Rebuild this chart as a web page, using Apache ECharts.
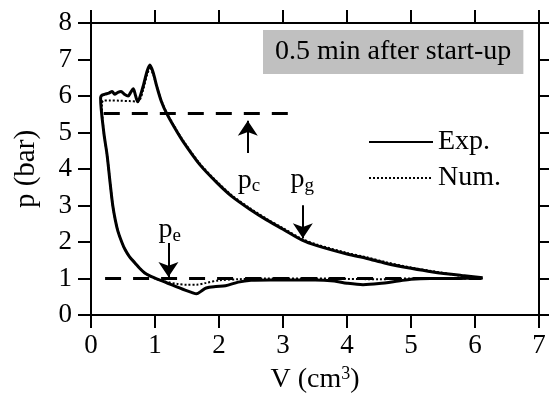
<!DOCTYPE html>
<html>
<head>
<meta charset="utf-8">
<script src="https://cdn.jsdelivr.net/npm/echarts@6/dist/echarts.min.js"></script>
<style>
  html, body { margin: 0; padding: 0; background: #fff; }
  #chart { width: 549px; height: 396px; }
</style>
</head>
<body>
<div id="chart"></div>
<script>
const expV = [6.12, 5.8, 5.34, 5.0, 4.6, 4.31, 4.0, 3.53, 3.3, 3.0, 2.75, 2.48, 2.2, 1.97, 1.7, 1.44, 1.3, 1.18, 1.1, 1.03, 0.97, 0.92, 0.88, 0.82, 0.77, 0.73, 0.69, 0.66, 0.62, 0.58, 0.52, 0.47, 0.42, 0.37, 0.33, 0.28, 0.22, 0.17, 0.15,
  0.2, 0.25, 0.3, 0.34, 0.38, 0.42, 0.48, 0.53, 0.6, 0.69, 0.76, 0.84, 0.92, 1.0, 1.1, 1.2, 1.33, 1.47, 1.57, 1.65, 1.72, 1.8, 1.95, 2.1, 2.3, 2.5, 2.8, 3.1, 3.5, 3.8, 4.0, 4.25, 4.5, 4.8, 5.0, 5.3, 5.7, 6.12]
const expP = [1.02, 1.08, 1.18, 1.28, 1.42, 1.55, 1.67, 1.9, 2.05, 2.35, 2.6, 2.9, 3.25, 3.62, 4.12, 4.75, 5.15, 5.53, 5.85, 6.25, 6.65, 6.85, 6.7, 6.3, 6.0, 5.84, 6.05, 6.2, 6.1, 6.0, 6.05, 6.12, 6.1, 6.05, 6.12, 6.08, 6.05, 6.02, 5.95,
  5.0, 4.4, 3.6, 3.0, 2.6, 2.3, 2.0, 1.8, 1.6, 1.42, 1.28, 1.15, 1.07, 1.01, 0.94, 0.87, 0.78, 0.68, 0.62, 0.58, 0.65, 0.74, 0.78, 0.8, 0.9, 0.95, 0.96, 0.96, 0.96, 0.93, 0.87, 0.83, 0.86, 0.93, 0.98, 1.0, 1.0, 1.02]

// Numerical p-V loop
const numV = [6.12, 5.8, 5.34, 5.0, 4.6, 4.31, 4.0, 3.53, 3.3, 3.0, 2.75, 2.48, 2.2, 1.97, 1.7, 1.44, 1.3, 1.18, 1.1, 1.03, 0.97, 0.92, 0.88, 0.82, 0.77, 0.73, 0.6, 0.45, 0.3, 0.2, 0.17,
  0.2, 0.25, 0.3, 0.34, 0.38, 0.42, 0.48, 0.53, 0.6, 0.69, 0.76, 0.84, 0.92, 1.0, 1.1, 1.2, 1.35, 1.5, 1.65, 1.8, 2.0, 2.3, 2.7, 3.5, 4.0, 4.5, 5.0, 6.12]
const numP = [1.0, 1.07, 1.2, 1.3, 1.45, 1.58, 1.7, 1.93, 2.08, 2.38, 2.63, 2.93, 3.28, 3.65, 4.15, 4.78, 5.18, 5.55, 5.87, 6.25, 6.6, 6.75, 6.6, 6.2, 5.92, 5.85, 5.86, 5.87, 5.88, 5.88, 5.8,
  5.0, 4.4, 3.6, 3.0, 2.6, 2.3, 2.0, 1.8, 1.6, 1.42, 1.28, 1.15, 1.07, 1.0, 0.94, 0.9, 0.85, 0.83, 0.83, 0.88, 0.95, 0.98, 1.0, 1.0, 0.99, 0.98, 1.0, 1.0]

// reference pressure lines pc and pe
const pcLine = [[0.2, 5.52], [3.2, 5.52]]
const peLine = [[0.22, 1.0], [6.1, 1.0]]

// arrows: [from, to]
const arrows = [
  [[2.45, 4.44], [2.45, 5.32]],
  [[3.31, 3.01], [3.31, 2.1]],
  [[1.21, 1.97], [1.21, 1.04]],
]
// arrow labels
const labelPos = [[2.47, 3.69], [3.3, 3.7], [1.23, 2.33]]
const labelSub = ["c", "g", "e"]

const xTicks = [0, 1, 2, 3, 4, 5, 6, 7]
const yTicks = [0, 1, 2, 3, 4, 5, 6, 7, 8]

const FONT = "'Liberation Serif', 'Times New Roman', Times, serif"
const BLACK = "#000"

const chart = echarts.init(document.getElementById("chart"))

const zip = (a, b) => a.map((v, i) => [v, b[i]])

const axisCommon = {
  type: "value",
  axisLine: { show: true, onZero: false, lineStyle: { color: BLACK, width: 2 } },
  axisTick: { show: true, inside: false, length: 13, lineStyle: { color: BLACK, width: 2 } },
  splitLine: { show: false },
}

const option = {
  animation: false,
  backgroundColor: "#fff",
  textStyle: { fontFamily: FONT },
  title: {
    text: "0.5 min after start-up",
    left: 263,
    top: 30,
    backgroundColor: "#c0c0c0",
    padding: [7, 12],
    textStyle: { fontFamily: FONT, fontSize: 28, lineHeight: 30, fontWeight: "normal", color: BLACK },
  },
  legend: {
    data: ["Exp.", "Num."],
    orient: "vertical",
    left: 363,
    top: 123,
    itemWidth: 64,
    itemHeight: 20,
    itemGap: 8,
    itemStyle: { opacity: 0 },
    textStyle: { fontFamily: FONT, fontSize: 28, color: BLACK, padding: [0, 0, 0, 0] },
  },
  grid: { left: 91, right: 10, top: 23, bottom: 81, outerBoundsMode: "none" },
  xAxis: [
    {
      ...axisCommon,
      position: "bottom",
      min: xTicks[0], max: xTicks[xTicks.length - 1], interval: 1,
      axisLabel: { margin: 17, fontFamily: FONT, fontSize: 27, color: BLACK },
      name: "V (cm{sup|3})",
      nameLocation: "middle",
      nameGap: 50,
      nameTextStyle: {
        fontFamily: FONT, fontSize: 28, color: BLACK,
        rich: { sup: { fontFamily: FONT, fontSize: 18, color: BLACK, verticalAlign: "top", padding: [0, 0, 12, 0] } },
      },
    },
    {
      ...axisCommon,
      position: "top",
      min: xTicks[0], max: xTicks[xTicks.length - 1], interval: 1,
      axisLabel: { show: false },
    },
  ],
  yAxis: [
    {
      ...axisCommon,
      position: "left",
      min: yTicks[0], max: yTicks[yTicks.length - 1], interval: 1,
      axisLabel: { margin: 19, fontFamily: FONT, fontSize: 27, color: BLACK },
      name: "p (bar)",
      nameLocation: "middle",
      nameGap: 50,
      nameTextStyle: { fontFamily: FONT, fontSize: 29, color: BLACK },
    },
    {
      ...axisCommon,
      position: "right",
      min: yTicks[0], max: yTicks[yTicks.length - 1], interval: 1,
      axisLabel: { show: false },
    },
  ],
  series: [
    {
      name: "pc",
      type: "line",
      data: pcLine,
      symbol: "none",
      lineStyle: { color: BLACK, width: 3, type: [16, 12] },
      silent: true,
    },
    {
      name: "pe",
      type: "line",
      data: peLine,
      symbol: "none",
      lineStyle: { color: BLACK, width: 3, type: [16, 12] },
      silent: true,
    },
    {
      name: "Num.",
      type: "line",
      data: zip(numV, numP),
      symbol: "none",
      smooth: 0.3,
      color: BLACK,
      lineStyle: { color: BLACK, width: 2, type: [2, 2] },
    },
    {
      name: "Exp.",
      type: "line",
      data: zip(expV, expP),
      symbol: "none",
      smooth: 0.3,
      color: BLACK,
      lineStyle: { color: BLACK, width: 3 },
    },
    {
      name: "arrows",
      type: "lines",
      coordinateSystem: "cartesian2d",
      data: arrows.map((a) => ({ coords: a })),
      symbol: ["none", "arrow"],
      symbolSize: 15,
      lineStyle: { color: BLACK, width: 2, opacity: 1 },
      silent: true,
    },
    {
      name: "labels",
      type: "scatter",
      data: labelPos.map((p, i) => ({ value: p, sub: labelSub[i] })),
      symbolSize: 0,
      itemStyle: { opacity: 1 },
      label: {
        show: true,
        position: "inside",
        formatter: (p) => "p{s|" + p.data.sub + "}",
        fontFamily: FONT,
        fontSize: 28,
        color: BLACK,
        opacity: 1,
        rich: { s: { fontFamily: FONT, fontSize: 19, color: BLACK, verticalAlign: "bottom", padding: [12, 0, 0, 0] } },
      },
      silent: true,
    },
  ],
}

chart.setOption(option)
</script>
</body>
</html>
